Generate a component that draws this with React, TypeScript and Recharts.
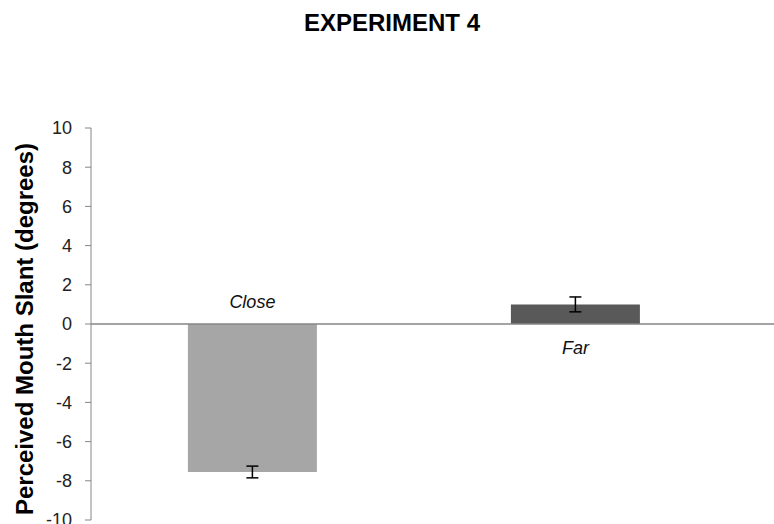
import React from "react";
import {
  Bar,
  BarChart,
  Cell,
  ErrorBar,
  LabelList,
  ReferenceLine,
  XAxis,
  YAxis,
} from "recharts";

const categories = ["Close", "Far"];
const slant = [-7.55, 1.0];
const slantError = [0.3, 0.38];
const barColors = ["#a6a6a6", "#595959"];
const yTicks = [-10, -8, -6, -4, -2, 0, 2, 4, 6, 8, 10];

const data = categories.map((name, i) => ({
  name,
  value: slant[i],
  err: slantError[i],
}));

const FONT = "'Liberation Sans', Arial, sans-serif";

const CategoryLabel = (props: any) => {
  const { x, y, width, height, index, value } = props;
  const top = Math.min(y, y + height);
  const bottom = Math.max(y, y + height);
  const negative = slant[index] < 0;
  // Excel puts the category name on the opposite side of the axis from the bar
  const zero = negative ? top : bottom;
  return (
    <text
      x={x + width / 2}
      y={negative ? zero - 16 : zero + 30}
      textAnchor="middle"
      fontSize={18}
      fontStyle="italic"
      fontFamily={FONT}
      fill="#111"
    >
      {value}
    </text>
  );
};

const YLabel = (props: any) => {
  const { viewBox } = props;
  const cy = viewBox.y + viewBox.height / 2 + 5;
  return (
    <text
      x={24}
      y={cy}
      transform={`rotate(-90, 24, ${cy})`}
      textAnchor="middle"
      dominantBaseline="central"
      fontSize={24}
      fontWeight="bold"
      fontFamily={FONT}
      fill="#000"
    >
      Perceived Mouth Slant (degrees)
    </text>
  );
};

export default function App() {
  return (
    <div
      style={{
        position: "absolute",
        left: 0,
        top: 0,
        width: 774,
        height: 524,
        background: "#fff",
        fontFamily: FONT,
      }}
    >
      <div
        style={{
          position: "absolute",
          left: 0,
          width: 784,
          top: 9,
          textAlign: "center",
          fontSize: 24,
          fontWeight: "bold",
          color: "#000",
        }}
      >
        EXPERIMENT 4
      </div>
      <BarChart
        width={774}
        height={524}
        data={data}
        margin={{ top: 128, right: 0, bottom: 4, left: 0 }}
        barCategoryGap="30%"
      >
        <XAxis dataKey="name" hide padding={{ left: 0, right: 37 }} />
        <YAxis
          width={91}
          domain={[-10, 10]}
          ticks={yTicks}
          interval={0}
          allowDataOverflow
          stroke="#868686"
          tickSize={6}
          tickMargin={13}
          tick={{ fill: "#222", fontSize: 18, fontFamily: FONT }}
          label={<YLabel />}
        />
        <ReferenceLine y={0} stroke="#868686" strokeWidth={1.5} />
        <Bar dataKey="value" isAnimationActive={false}>
          {data.map((d, i) => (
            <Cell key={d.name} fill={barColors[i]} />
          ))}
          <ErrorBar
            dataKey="err"
            width={6}
            stroke="#000"
            strokeWidth={1.5}
            direction="y"
          />
          <LabelList dataKey="name" content={<CategoryLabel />} />
        </Bar>
      </BarChart>
    </div>
  );
}
